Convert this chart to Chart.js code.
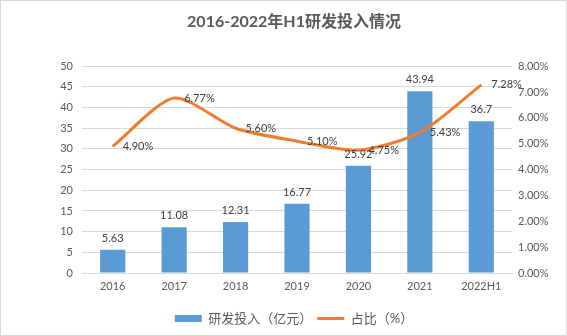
<!DOCTYPE html>
<html>
<head>
<meta charset="utf-8">
<script src="https://cdn.jsdelivr.net/npm/chart.js@4/dist/chart.umd.min.js"></script>
<style>
  html, body { margin: 0; padding: 0; background: #fff; }
  #wrap { width: 567px; height: 336px; box-sizing: border-box; border: 1px solid #d9d9d9; position: relative; }
  #rd-chart { display: block; }
</style>
</head>
<body>
<div id="wrap">
  <canvas id="rd-chart"></canvas>
</div>
<script>
  const years = ["2016", "2017", "2018", "2019", "2020", "2021", "2022H1"];
  const spend = [5.63, 11.08, 12.31, 16.77, 25.92, 43.94, 36.7];     // 亿元
  const ratio = [4.90, 6.77, 5.60, 5.10, 4.75, 5.43, 7.28];          // %

  const FONT = "Lato, 'Noto Sans CJK SC', sans-serif";
  const TEXT = "#595959";

  // value labels: above the bars, to the right of the line points
  const valueLabels = {
    id: 'valueLabels',
    afterDatasetsDraw(chart) {
      const ctx = chart.ctx;
      ctx.save();
      ctx.font = "11px " + FONT;
      ctx.fillStyle = "#404040";
      chart.data.datasets.forEach((ds, i) => {
        const meta = chart.getDatasetMeta(i);
        meta.data.forEach((el, j) => {
          const v = ds.data[j];
          if (ds.type === 'line') {
            ctx.textAlign = 'left';
            ctx.textBaseline = 'middle';
            ctx.fillText(v.toFixed(2) + '%', el.x + 10, el.y);
          } else {
            ctx.textAlign = 'center';
            ctx.textBaseline = 'bottom';
            ctx.fillText(String(v), el.x, el.y - 6);
          }
        });
      });
      ctx.restore();
    }
  };

  const ctx = document.getElementById('rd-chart').getContext('2d');

  new Chart(ctx, {
    type: 'bar',
    data: {
      labels: years,
      datasets: [
        {
          type: 'bar',
          label: '研发投入（亿元）',
          data: spend,
          backgroundColor: '#5B9BD5',
          yAxisID: 'y',
          order: 1,
          barPercentage: 0.82,
          categoryPercentage: 0.5,
          pointStyle: 'rect'
        },
        {
          type: 'line',
          label: '占比（%）',
          data: ratio,
          borderColor: '#ED7D31',
          backgroundColor: '#ED7D31',
          borderWidth: 3,
          pointRadius: 0,
          tension: 0.25,
          yAxisID: 'y1',
          order: 0,
          pointStyle: 'line'
        }
      ]
    },
    options: {
      responsive: true,
      maintainAspectRatio: false,
      animation: false,
      layout: { padding: { left: 21, right: 0, top: 0, bottom: 0 } },
      plugins: {
        title: {
          display: true,
          text: '2016-2022年H1研发投入情况',
          color: TEXT,
          font: { family: FONT, size: 16, weight: 'bold' },
          padding: { top: 11, bottom: 35 }
        },
        legend: {
          position: 'bottom',
          labels: {
            color: TEXT,
            font: { family: FONT, size: 13 },
            usePointStyle: true,
            pointStyleWidth: 27,
            boxWidth: 27,
            boxHeight: 7,
            padding: 5,
            sort: (a, b) => a.datasetIndex - b.datasetIndex
          }
        },
        tooltip: { enabled: false }
      },
      scales: {
        x: {
          grid: { display: false, drawTicks: false },
          border: { display: true, color: '#d9d9d9' },
          ticks: { color: TEXT, font: { family: FONT, size: 11 }, padding: 7, maxRotation: 0 },
          afterFit: (s) => { s.height = 34; }
        },
        y: {
          position: 'left',
          min: 0,
          max: 50,
          grid: { color: '#d9d9d9', drawTicks: false },
          border: { display: false },
          ticks: { stepSize: 5, color: TEXT, font: { family: FONT, size: 11 }, padding: 9 },
          afterFit: (s) => { s.width = 60; }
        },
        y1: {
          position: 'right',
          min: 0,
          max: 8,
          grid: { display: false, drawTicks: false },
          border: { display: false },
          ticks: {
            stepSize: 1,
            color: TEXT,
            font: { family: FONT, size: 11 },
            padding: 6,
            callback: (v) => v.toFixed(2) + '%'
          },
          afterFit: (s) => { s.width = 54; }
        }
      }
    },
    plugins: [valueLabels]
  });
</script>
</body>
</html>
